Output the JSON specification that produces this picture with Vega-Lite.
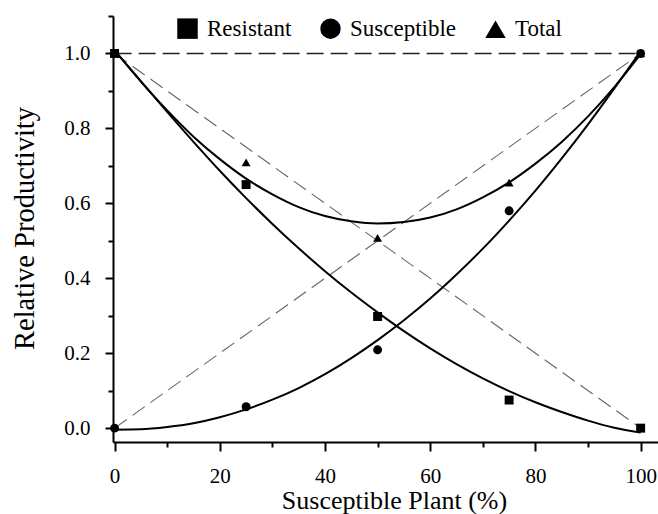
{
  "$schema": "https://vega.github.io/schema/vega-lite/v6.json",
  "width": 545,
  "height": 426,
  "autosize": "none",
  "padding": {"left": 113, "top": 16, "right": 0, "bottom": 72},
  "background": "white",
  "config": {
    "view": {"stroke": null},
    "font": "Liberation Serif, Times New Roman, serif",
    "axis": {
      "domainColor": "black",
      "domainWidth": 2,
      "tickColor": "black",
      "tickWidth": 2,
      "grid": false,
      "labelFont": "Liberation Serif, Times New Roman, serif",
      "labelFontSize": 21,
      "labelColor": "black",
      "titleFont": "Liberation Serif, Times New Roman, serif",
      "titleFontSize": 26,
      "titleFontWeight": "normal",
      "titleColor": "black"
    },
    "legend": {
      "labelFont": "Liberation Serif, Times New Roman, serif"
    }
  },
  "datasets": {
    "obs": [
      {"pct": 0, "value": 1.0, "group": "Resistant"},
      {"pct": 25, "value": 0.65, "group": "Resistant"},
      {"pct": 50, "value": 0.298, "group": "Resistant"},
      {"pct": 75, "value": 0.075, "group": "Resistant"},
      {"pct": 100, "value": 0.0, "group": "Resistant"},
      {"pct": 0, "value": 0.0, "group": "Susceptible"},
      {"pct": 25, "value": 0.057, "group": "Susceptible"},
      {"pct": 50, "value": 0.209, "group": "Susceptible"},
      {"pct": 75, "value": 0.58, "group": "Susceptible"},
      {"pct": 100, "value": 1.0, "group": "Susceptible"},
      {"pct": 0, "value": 1.0, "group": "Total"},
      {"pct": 25, "value": 0.709, "group": "Total"},
      {"pct": 50, "value": 0.508, "group": "Total"},
      {"pct": 75, "value": 0.655, "group": "Total"},
      {"pct": 100, "value": 1.0, "group": "Total"}
    ],
    "fit": [
      {"pct": 0, "value": 1.008, "group": "Resistant"},
      {"pct": 5, "value": 0.926, "group": "Resistant"},
      {"pct": 10, "value": 0.844, "group": "Resistant"},
      {"pct": 15, "value": 0.764, "group": "Resistant"},
      {"pct": 20, "value": 0.687, "group": "Resistant"},
      {"pct": 25, "value": 0.614, "group": "Resistant"},
      {"pct": 30, "value": 0.545, "group": "Resistant"},
      {"pct": 35, "value": 0.48, "group": "Resistant"},
      {"pct": 40, "value": 0.419, "group": "Resistant"},
      {"pct": 45, "value": 0.362, "group": "Resistant"},
      {"pct": 50, "value": 0.309, "group": "Resistant"},
      {"pct": 55, "value": 0.259, "group": "Resistant"},
      {"pct": 60, "value": 0.213, "group": "Resistant"},
      {"pct": 65, "value": 0.171, "group": "Resistant"},
      {"pct": 70, "value": 0.133, "group": "Resistant"},
      {"pct": 75, "value": 0.099, "group": "Resistant"},
      {"pct": 80, "value": 0.069, "group": "Resistant"},
      {"pct": 85, "value": 0.043, "group": "Resistant"},
      {"pct": 90, "value": 0.02, "group": "Resistant"},
      {"pct": 95, "value": 0.001, "group": "Resistant"},
      {"pct": 100, "value": -0.012, "group": "Resistant"},
      {"pct": 0, "value": -0.004, "group": "Susceptible"},
      {"pct": 5, "value": -0.003, "group": "Susceptible"},
      {"pct": 10, "value": 0.003, "group": "Susceptible"},
      {"pct": 15, "value": 0.013, "group": "Susceptible"},
      {"pct": 20, "value": 0.029, "group": "Susceptible"},
      {"pct": 25, "value": 0.05, "group": "Susceptible"},
      {"pct": 30, "value": 0.076, "group": "Susceptible"},
      {"pct": 35, "value": 0.107, "group": "Susceptible"},
      {"pct": 40, "value": 0.144, "group": "Susceptible"},
      {"pct": 45, "value": 0.187, "group": "Susceptible"},
      {"pct": 50, "value": 0.235, "group": "Susceptible"},
      {"pct": 55, "value": 0.288, "group": "Susceptible"},
      {"pct": 60, "value": 0.346, "group": "Susceptible"},
      {"pct": 65, "value": 0.41, "group": "Susceptible"},
      {"pct": 70, "value": 0.479, "group": "Susceptible"},
      {"pct": 75, "value": 0.554, "group": "Susceptible"},
      {"pct": 80, "value": 0.634, "group": "Susceptible"},
      {"pct": 85, "value": 0.72, "group": "Susceptible"},
      {"pct": 90, "value": 0.811, "group": "Susceptible"},
      {"pct": 95, "value": 0.907, "group": "Susceptible"},
      {"pct": 100, "value": 1.006, "group": "Susceptible"},
      {"pct": 0, "value": 1.008, "group": "Total"},
      {"pct": 5, "value": 0.925, "group": "Total"},
      {"pct": 10, "value": 0.848, "group": "Total"},
      {"pct": 15, "value": 0.778, "group": "Total"},
      {"pct": 20, "value": 0.718, "group": "Total"},
      {"pct": 25, "value": 0.666, "group": "Total"},
      {"pct": 30, "value": 0.624, "group": "Total"},
      {"pct": 35, "value": 0.59, "group": "Total"},
      {"pct": 40, "value": 0.566, "group": "Total"},
      {"pct": 45, "value": 0.552, "group": "Total"},
      {"pct": 50, "value": 0.546, "group": "Total"},
      {"pct": 55, "value": 0.55, "group": "Total"},
      {"pct": 60, "value": 0.562, "group": "Total"},
      {"pct": 65, "value": 0.584, "group": "Total"},
      {"pct": 70, "value": 0.616, "group": "Total"},
      {"pct": 75, "value": 0.656, "group": "Total"},
      {"pct": 80, "value": 0.706, "group": "Total"},
      {"pct": 85, "value": 0.764, "group": "Total"},
      {"pct": 90, "value": 0.832, "group": "Total"},
      {"pct": 95, "value": 0.91, "group": "Total"},
      {"pct": 100, "value": 0.998, "group": "Total"}
    ],
    "diag": [
      {"pct": 0, "value": 1.0, "line": "down"},
      {"pct": 100, "value": 0.0, "line": "down"},
      {"pct": 0, "value": 0.0, "line": "up"},
      {"pct": 100, "value": 1.0, "line": "up"}
    ],
    "flat": [
      {"pct": 0, "value": 1.0, "line": "flat"},
      {"pct": 100, "value": 1.0, "line": "flat"}
    ]
  },
  "encoding": {
    "x": {
      "field": "pct",
      "type": "quantitative",
      "scale": {"domain": [-0.3, 103.3], "nice": false, "zero": false},
      "axis": {
        "title": "Susceptible Plant (%)",
        "values": [0, 10, 20, 30, 40, 50, 60, 70, 80, 90, 100],
        "labelExpr": "datum.value % 20 === 0 ? format(datum.value, 'd') : ''",
        "tickSize": {"condition": {"test": "datum.value % 20 === 0", "value": 9}, "value": 5},
        "labelPadding": 14,
        "titleFontSize": 26,
        "titleX": 281,
        "titleY": 66,
        "titleBaseline": "alphabetic"
      }
    },
    "y": {
      "field": "value",
      "type": "quantitative",
      "scale": {"domain": [-0.037, 1.1], "nice": false, "zero": false},
      "axis": {
        "title": "Relative Productivity",
        "values": [0, 0.1, 0.2, 0.3, 0.4, 0.5, 0.6, 0.7, 0.8, 0.9, 1.0, 1.1],
        "labelExpr": "round(datum.value * 10) % 2 === 0 ? format(datum.value, '.1f') : ''",
        "tickSize": {"condition": {"test": "round(datum.value * 10) % 2 === 0", "value": 8}, "value": 5},
        "labelPadding": 15,
        "titleFontSize": 28.5,
        "titleX": -80,
        "titleY": 212,
        "titleBaseline": "alphabetic"
      }
    }
  },
  "layer": [
    {
      "data": {"name": "flat"},
      "mark": {"type": "line", "color": "#222222", "strokeWidth": 1.5, "strokeDash": [17, 7]},
      "encoding": {"detail": {"field": "line"}}
    },
    {
      "data": {"name": "diag"},
      "mark": {"type": "line", "color": "#666666", "strokeWidth": 1.1, "strokeDash": [15, 7]},
      "encoding": {"detail": {"field": "line"}}
    },
    {
      "data": {"name": "fit"},
      "mark": {"type": "line", "color": "black", "strokeWidth": 2, "interpolate": "monotone"},
      "encoding": {"detail": {"field": "group"}}
    },
    {
      "data": {"name": "obs"},
      "mark": {"type": "point", "filled": true, "color": "black", "opacity": 1, "size": 80},
      "encoding": {
        "shape": {
          "field": "group",
          "type": "nominal",
          "scale": {"domain": ["Resistant", "Susceptible", "Total"], "range": ["square", "circle", "triangle-up"]},
          "legend": {
            "title": null,
            "orient": "none",
            "direction": "horizontal",
            "legendX": 63,
            "legendY": 1,
            "padding": 0,
            "columns": 3,
            "columnPadding": 25,
            "labelOffset": 8,
            "labelFont": "Liberation Serif, Times New Roman, serif",
            "labelFontSize": 23,
            "labelColor": "black",
            "symbolSize": 420,
            "symbolFillColor": "black",
            "symbolStrokeColor": "black",
            "symbolOpacity": 1,
            "labelLimit": 300,
            "encode": {
              "symbols": {
                "enter": {
                  "size": {"signal": "datum.value === 'Total' ? 900 : datum.value === 'Susceptible' ? 480 : 230"}
                },
                "update": {
                  "size": {"signal": "datum.value === 'Total' ? 900 : datum.value === 'Susceptible' ? 480 : 230"}
                }
              }
            }
          }
        }
      }
    }
  ]
}
